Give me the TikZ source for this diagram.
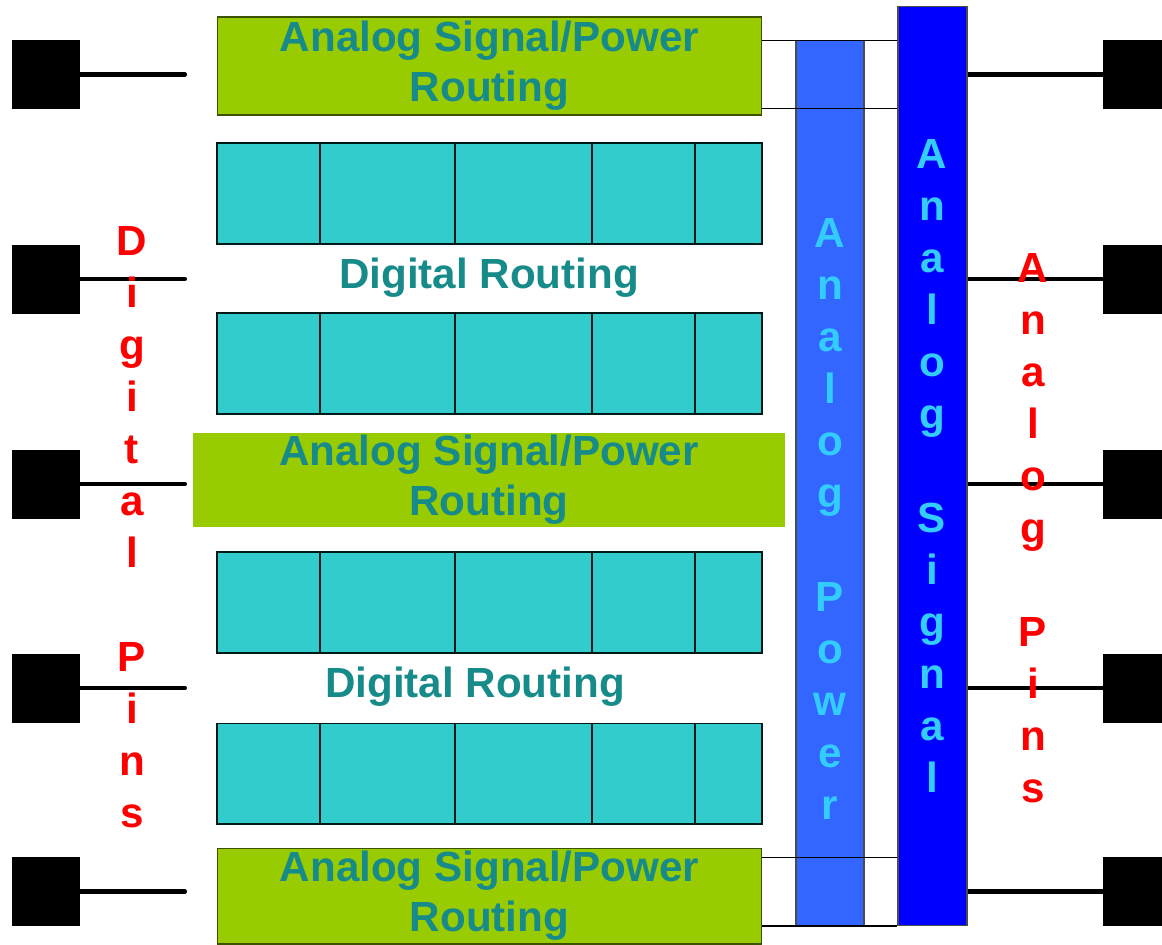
\documentclass[tikz,border=0pt]{standalone}
\usepackage{fontspec}
\setmainfont{Liberation Sans}
\usetikzlibrary{positioning, calc}
\definecolor{agreen}{HTML}{99CC00}
\definecolor{tealtxt}{HTML}{178A8A}
\definecolor{cellcyan}{HTML}{33CCCC}
\definecolor{pwrblue}{HTML}{3366FF}
\definecolor{sigblue}{HTML}{0000FF}
\definecolor{bartxt}{HTML}{33CCFF}
\tikzset{
  % --- routing channels and logic rows ---
  routebox/.style={draw=black!60!agreen, fill=agreen, text=tealtxt,
    font=\fontsize{24}{28.5}\selectfont\bfseries, align=center,
    inner sep=0pt, line width=0.6pt},
  routetext/.style={text=tealtxt, font=\fontsize{24}{28.5}\selectfont\bfseries,
    inner sep=0pt},
  logiccell/.style={draw=black!80!teal, fill=cellcyan, minimum height=2.02cm,
    inner sep=0pt, line width=0.6pt},
  % --- analog rails ---
  railbar/.style={draw=black!70, inner sep=0pt, line width=0.6pt},
  % --- package pins ---
  pinpad/.style={fill=black, minimum width=1.36cm, minimum height=1.38cm,
    inner sep=0pt},
  pinlead/.style={line width=2.3pt, line cap=round},
  wire/.style={line width=0.8pt},
  vlabel/.style={font=\fontsize{24}{29}\selectfont\bfseries, anchor=base,
    inner sep=0pt},
}

\begin{document}
\begin{tikzpicture}[x=0.02cm, y=-0.02cm]
  \useasboundingbox (0,0) rectangle (1162,944);
  % ---- Analog rails ----
  \node[railbar, fill=pwrblue, minimum width=1.36cm, minimum height=17.72cm] (pwr) at (830,483) {};
  \node[railbar, fill=sigblue, minimum width=1.38cm, minimum height=18.4cm] (sig) at (932.5,466) {};
  % ---- Analog routing channels ----
  \node[routebox, minimum width=10.9cm, minimum height=1.96cm] (agtop) at (489.5,66) {Analog Signal/Power\\Routing};
  \node[routebox, draw=none, minimum width=11.84cm, minimum height=1.88cm] (agmid) at (489,480) {Analog Signal/Power\\Routing};
  \node[routebox, minimum width=10.9cm, minimum height=1.92cm] (agbot) at (489.5,896) {Analog Signal/Power\\Routing};
  % ---- Logic rows ----
  \foreach \r/\yc in {1/193.5, 2/363.5, 3/602.5, 4/773.5}{
    \foreach \c/\xc/\w in {1/268.5/2.06, 2/387.5/2.7, 3/523.5/2.74, 4/643.5/2.06, 5/728.5/1.34}{
      \node[logiccell, minimum width=\w cm] (cell\r\c) at (\xc,\yc) {};
    }
  }
  \node[routetext] (drone) at (489,278) {Digital Routing};
  \node[routetext] (drtwo) at (475,687) {Digital Routing};
  % ---- Taps from routing channels to the rails ----
  \coordinate (taptopa) at ($(agtop.north east)!0.245!(agtop.south east)$);
  \coordinate (taptopb) at ($(agtop.north east)!0.93!(agtop.south east)$);
  \coordinate (tapbota) at ($(agbot.north east)!0.105!(agbot.south east)$);
  \coordinate (tapbotb) at ($(agbot.north east)!0.81!(agbot.south east)$);
  \foreach \t in {taptopa, taptopb, tapbota, tapbotb}{
    \draw[wire] (\t) -- (\t -| sig.west);
  }
  % ---- Pins ----
  \foreach \i/\yc in {1/74.5, 2/279, 3/484, 4/688, 5/891.5}{
    \node[pinpad] (lpin\i) at (46,\yc) {};
    \node[pinpad] (rpin\i) at (1137,\yc) {};
    \coordinate (lend\i) at (185,\yc);
    \draw[pinlead] (lpin\i.east) -- (lend\i);
    \draw[pinlead, line cap=butt] (rpin\i.west) -- (rpin\i.west -| sig.east);
  }
  % ---- Vertical labels ----
  \foreach \ch/\k in {A/0, n/1, a/2, l/3, o/4, g/5, P/7, o/8, w/9, e/10, r/11}{
    \node[vlabel, text=bartxt] (pwrlbl\k) at (830,{247+52*\k}) {\ch};
  }
  \foreach \ch/\k in {A/0, n/1, a/2, l/3, o/4, g/5, S/7, i/8, g/9, n/10, a/11, l/12}{
    \node[vlabel, text=bartxt] (siglbl\k) at (932,{168+52*\k}) {\ch};
  }
  \foreach \ch/\k in {D/0, i/1, g/2, i/3, t/4, a/5, l/6, P/8, i/9, n/10, s/11}{
    \node[vlabel, text=red] (dpin\k) at (132,{255+52*\k}) {\ch};
  }
  \foreach \ch/\k in {A/0, n/1, a/2, l/3, o/4, g/5, P/7, i/8, n/9, s/10}{
    \node[vlabel, text=red] (apin\k) at (1033,{282+52*\k}) {\ch};
  }
\end{tikzpicture}
\end{document}
